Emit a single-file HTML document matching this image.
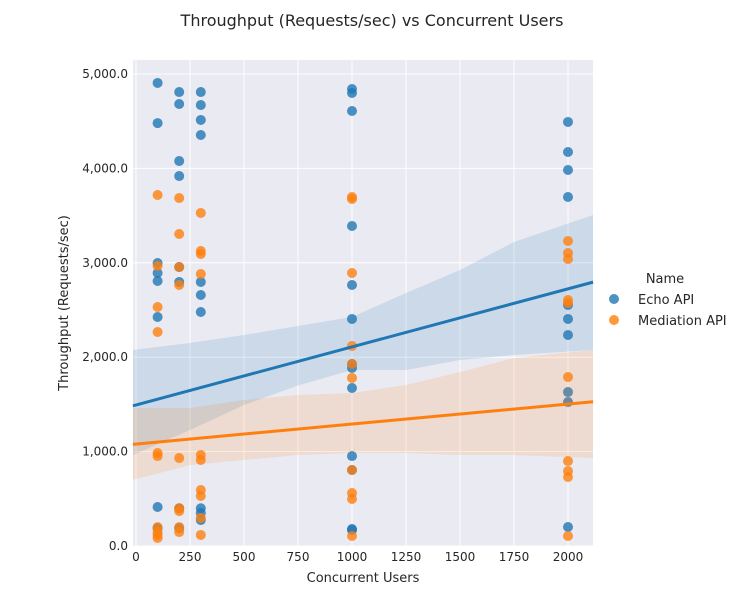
<!DOCTYPE html>
<html><head><meta charset="utf-8"><style>
body{margin:0;background:#fff;font-family:"Liberation Sans","DejaVu Sans",sans-serif;}
svg text{font-family:"DejaVu Sans","Liberation Sans",sans-serif;fill:#262626;}
</style></head><body>
<svg id="c" width="744" height="600"></svg>
<script>
const echoX=[100,100,100,100,100,100,100,100,200,200,200,200,200,200,200,200,300,300,300,300,300,300,300,300,300,300,1000,1000,1000,1000,1000,1000,1000,1000,1000,1000,1000,1000,1000,2000,2000,2000,2000,2000,2000,2000,2000,2000,2000];
const echoY=[4905,4480,2998,2892,2807,2426,413,190,4809,4682,4078,3919,2955,2797,400,190,4809,4671,4513,4354,2797,2659,2479,400,350,275,4841,4799,4608,3390,2765,2405,1928,1886,1674,953,805,180,170,4492,4174,3983,3697,2553,2405,2235,1631,1525,201];
const medX=[100,100,100,100,100,100,100,100,100,100,200,200,200,200,200,200,200,200,200,300,300,300,300,300,300,300,300,300,300,1000,1000,1000,1000,1000,1000,1000,1000,1000,1000,2000,2000,2000,2000,2000,2000,2000,2000,2000,2000];
const medY=[3718,2966,2532,2267,985,953,200,148,117,85,3686,3305,2955,2765,932,400,370,200,148,3528,3125,3093,2881,964,911,593,530,297,117,3697,3676,2892,2119,1928,1780,805,561,498,106,3231,3104,3040,2606,2574,1790,900,794,731,106];
// regression fits [intercept, slope]
const echoFit=[1494,0.615];
const medFit=[1080,0.212];
// confidence band
const bandX=[-14,250,500,750,1000,1250,1500,1750,2116];
const echoUpper=[2076,2150,2235,2330,2426,2680,2924,3220,3506];
const echoLower=[964,1229,1494,1700,1864,1864,1970,2023,2076];
const medUpper=[1462,1462,1547,1600,1620,1705,1843,1991,2076];
const medLower=[700,858,911,964,985,985,964,964,932];
const xTicks=[0,250,500,750,1000,1250,1500,1750,2000];
const yTicks=[0,1000,2000,3000,4000,5000];
const L=133,R=593,T=60,B=546;
const sx=v=>136+v*0.216, sy=v=>546-v*0.0944;
const xMin=-14,xMax=2116;
const svg=document.getElementById('c');const NS='http://www.w3.org/2000/svg';
function mk(t,a,p){const e=document.createElementNS(NS,t);for(const k in a)e.setAttribute(k,a[k]);(p||svg).appendChild(e);return e;}
const bg=mk('rect',{x:L,y:T,width:R-L,height:B-T,fill:'#eaeaf2'});


xTicks.forEach(v=>{const g=mk('line',{x1:sx(v),x2:sx(v),y1:T,y2:B,stroke:'#fff','stroke-width':1});


const t=mk('text',{x:sx(v),y:B+15,'text-anchor':'middle','font-size':12});t.textContent=v;

});
yTicks.forEach(v=>{const g=mk('line',{x1:L,x2:R,y1:sy(v),y2:sy(v),stroke:'#fff','stroke-width':1});


const t=mk('text',{x:L-5,y:sy(v)+4,'text-anchor':'end','font-size':12});t.textContent=v.toLocaleString('en-US')+'.0';

});
function series(X,Y,up,lo,fit,col,name){
const pu=bandX.map((x,i)=>[sx(x),sy(up[i])]);const pl=bandX.map((x,i)=>[sx(x),sy(lo[i])]).reverse();
const band=mk('path',{d:'M'+pu.concat(pl).map(p=>p.join(',')).join('L')+'Z',fill:col,'fill-opacity':0.15});


const g=mk('g',{});
X.forEach((x,i)=>{const c=mk('circle',{cx:sx(x),cy:sy(Y[i]),r:5,fill:col,'fill-opacity':0.8},g);

});}
series(echoX,echoY,echoUpper,echoLower,echoFit,'#1f77b4','echo-api');
series(medX,medY,medUpper,medLower,medFit,'#ff7f0e','mediation-api');
[[echoFit,'#1f77b4','echo-api'],[medFit,'#ff7f0e','mediation-api']].forEach(([f,col,n])=>{const l=mk('line',{x1:sx(xMin),y1:sy(f[0]+f[1]*xMin),x2:sx(xMax),y2:sy(f[0]+f[1]*xMax),stroke:col,'stroke-width':3});

});
</script>
<svg width="744" height="600" style="position:absolute;left:0;top:0">
<text x="372" y="26" text-anchor="middle" font-size="16">Throughput (Requests/sec) vs Concurrent Users</text>
<text x="363" y="582" text-anchor="middle" font-size="13">Concurrent Users</text>
<text transform="translate(68,303) rotate(-90)" text-anchor="middle" font-size="13">Throughput (Requests/sec)</text>
<g>
<text x="665" y="283" text-anchor="middle" font-size="13">Name</text>
<circle cx="614" cy="299" r="5" fill="#1f77b4" fill-opacity="0.8"/>
<text x="638" y="304" font-size="13">Echo API</text>
<circle cx="614" cy="320" r="5" fill="#ff7f0e" fill-opacity="0.8"/>
<text x="638" y="325" font-size="13">Mediation API</text>
</g></svg>
</body></html>
